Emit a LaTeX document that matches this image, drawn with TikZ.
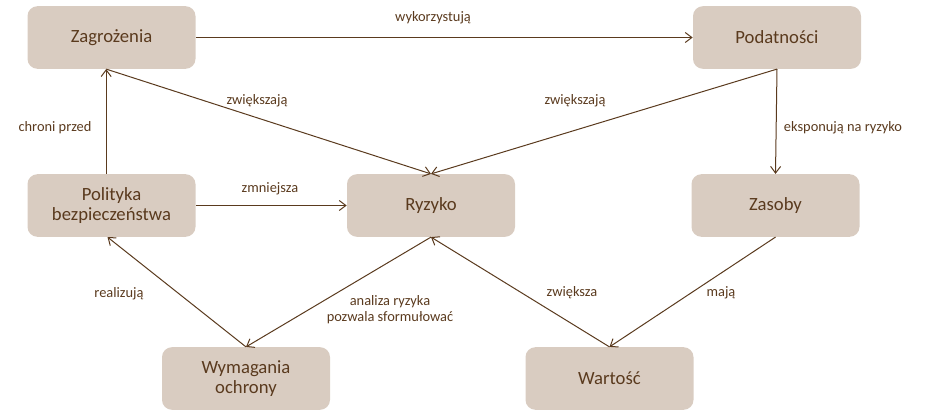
\documentclass[tikz,border=0pt]{standalone}
\usepackage{fontspec}
\setmainfont{Carlito}
\usetikzlibrary{arrows.meta}
\definecolor{boxfill}{HTML}{D9CCC1}
\definecolor{ink}{HTML}{5A3A1E}

\begin{document}
\begin{tikzpicture}[x=0.75pt,y=-0.75pt,
    box/.style={rectangle,rounded corners=7.5pt,fill=boxfill,text=ink,minimum width=126pt,minimum height=47pt,align=center,inner sep=2pt,font=\fontsize{14}{15.5}\selectfont},
    lbl/.style={text=ink,align=center,inner sep=0pt,font=\fontsize{10.8}{11.8}\selectfont},
    link/.style={draw=ink,line width=0.75pt,-{Straight Barb[length=5pt,width=7.5pt]}}]
            \useasboundingbox (0,0) rectangle (933,410);
            \node (zag) at (111.5,37.5) [box] {Zagrożenia};
            \node (pod) at (777,37.5) [box] {Podatności};
            \node (pol) at (111.5,205.5) [box] {Polityka\\bezpieczeństwa};
            \node (ryz) at (431,205.5) [box] {Ryzyko};
            \node (zas) at (775.5,205.5) [box] {Zasoby};
            \node (wym) at (246,378.5) [box] {Wymagania\\ochrony};
            \node (war) at (609.5,378.5) [box] {Wartość};
            \draw[link] (zag.east) -- (pod.west);
            \draw[link] ([xshift=-4pt]zag.south) -- (ryz.north);
            \draw[link] (pod.south) -- (ryz.north);
            \draw[link] (pod.south) -- (zas.north);
            \draw[link] ([xshift=-4pt]pol.north) -- ([xshift=-4pt]zag.south);
            \draw[link] (pol.east) -- (ryz.west);
            \draw[link] (wym.north) -- ([xshift=-3pt]pol.south);
            \draw[link] (ryz.south) -- (wym.north);
            \draw[link] (war.north) -- (ryz.south);
            \draw[link] (zas.south) -- (war.north);
            \node (l1) at (433,18) [lbl] {wykorzystują};
            \node (l2) at (257,101) [lbl] {zwiększają};
            \node (l3) at (575,101) [lbl] {zwiększają};
            \node (l4) at (843,128) [lbl] {eksponują na ryzyko};
            \node (l5) at (55,128) [lbl] {chroni przed};
            \node (l6) at (270,189) [lbl] {zmniejsza};
            \node (l7) at (119,294) [lbl] {realizują};
            \node (l8) at (390,310) [lbl] {analiza ryzyka\\pozwala sformułować};
            \node (l9) at (572,293) [lbl] {zwiększa};
            \node (l10) at (721,293) [lbl] {mają};
        \end{tikzpicture}
\end{document}
